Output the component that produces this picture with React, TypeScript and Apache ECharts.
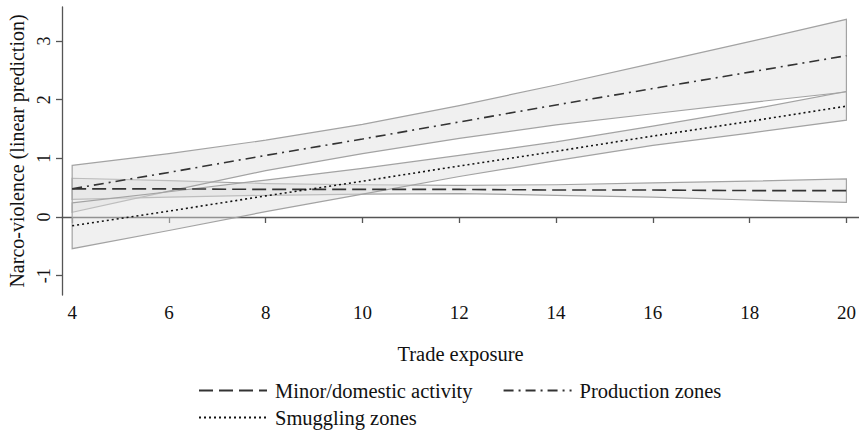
import React, { useEffect, useRef } from "react";
import * as echarts from "echarts";

const xValues = [4, 6, 8, 10, 12, 14, 16, 18, 20];
const xTicks = [4, 6, 8, 10, 12, 14, 16, 18, 20];
const yTicks = [-1, 0, 1, 2, 3];

const minorMid = [0.48, 0.48, 0.47, 0.47, 0.47, 0.46, 0.46, 0.45, 0.45];
const minorLo = [0.3, 0.34, 0.37, 0.39, 0.4, 0.37, 0.34, 0.29, 0.25];
const minorHi = [0.66, 0.62, 0.57, 0.55, 0.54, 0.55, 0.58, 0.61, 0.65];

const prodMid = [0.48, 0.76, 1.05, 1.33, 1.62, 1.91, 2.19, 2.47, 2.75];
const prodLo = [0.08, 0.44, 0.79, 1.08, 1.34, 1.57, 1.76, 1.95, 2.13];
const prodHi = [0.88, 1.08, 1.31, 1.58, 1.9, 2.25, 2.62, 2.99, 3.37];

const smugMid = [-0.15, 0.1, 0.36, 0.61, 0.87, 1.12, 1.38, 1.63, 1.89];
const smugLo = [-0.54, -0.23, 0.09, 0.39, 0.69, 0.96, 1.22, 1.43, 1.65];
const smugHi = [0.24, 0.43, 0.63, 0.83, 1.05, 1.28, 1.55, 1.83, 2.14];

const FONT = "Liberation Serif";

function band(name: string, lo: number[], hi: number[]) {
  return {
    type: "custom",
    name,
    silent: true,
    data: xValues.map((x, i) => [x, lo[i], hi[i]]),
    encode: { x: 0, y: [1, 2] },
    renderItem: (params: any, api: any) => {
      if (params.dataIndex !== 0) return null;
      const top = xValues.map((x, i) => api.coord([x, hi[i]]));
      const bot = xValues.map((x, i) => api.coord([x, lo[i]])).reverse();
      return {
        type: "polygon",
        shape: { points: [...top, ...bot], smooth: 0 },
        style: {
          fill: "rgba(222,222,222,0.45)",
          stroke: "#a3a3a3",
          lineWidth: 1.2,
        },
      };
    },
    z: 1,
  };
}

function line(name: string, mid: number[], type: any, color: string) {
  return {
    type: "line",
    name,
    data: xValues.map((x, i) => [x, mid[i]]),
    symbol: "none",
    showSymbol: false,
    lineStyle: { color, width: 1.6, type },
    itemStyle: { color },
    z: 5,
  };
}

export default function App() {
  const ref = useRef<HTMLDivElement>(null);
  useEffect(() => {
    if (!ref.current) return;
    const chart = echarts.init(ref.current, undefined, { renderer: "svg" });
    const axisColor = "#555555";
    const legendCommon = {
      left: 198,
      padding: 0,
      orient: "horizontal",
      itemWidth: 68,
      itemHeight: 14,
      itemGap: 30,
      itemStyle: { opacity: 0 },
      textStyle: { fontFamily: FONT, fontSize: 20.5, color: "#111", padding: [0, 0, 0, 3] },
      selectedMode: false,
    };
    chart.setOption({
      animation: false,
      backgroundColor: "#ffffff",
      textStyle: { fontFamily: FONT },
      grid: { left: 62, top: 7, right: 0, bottom: 136, outerBoundsMode: "none", containLabel: false },
      xAxis: {
        type: "value",
        min: 3.79,
        max: 20.26,
        name: "Trade exposure",
        nameLocation: "middle",
        nameGap: 48,
        nameTextStyle: { fontFamily: FONT, fontSize: 20.5, color: "#111" },
        axisLine: { show: true, lineStyle: { color: axisColor, width: 1.3 } },
        axisTick: {
          show: true,
          length: 6,
          customValues: xTicks,
          lineStyle: { color: axisColor, width: 1.3 },
        },
        axisLabel: {
          customValues: xTicks,
          fontFamily: FONT,
          fontSize: 19,
          color: "#111",
          margin: 8,
        },
        splitLine: { show: false },
      },
      yAxis: {
        type: "value",
        min: -1.33,
        max: 3.58,
        name: "Narco-violence (linear prediction)",
        nameLocation: "middle",
        nameGap: 34,
        nameTextStyle: { fontFamily: FONT, fontSize: 20, color: "#111" },
        axisLine: { show: true, lineStyle: { color: axisColor, width: 1.3 } },
        axisTick: {
          show: true,
          length: 6,
          customValues: yTicks,
          lineStyle: { color: axisColor, width: 1.3 },
        },
        axisLabel: {
          customValues: yTicks,
          rotate: 90,
          fontFamily: FONT,
          fontSize: 18,
          color: "#111",
          margin: 9,
        },
        splitLine: { show: false },
      },
      legend: [
        { ...legendCommon, data: ["Minor/domestic activity", "Production zones"], top: 380 },
        { ...legendCommon, data: ["Smuggling zones"], top: 407 },
      ],
      series: [
        band("minorBand", minorLo, minorHi),
        band("prodBand", prodLo, prodHi),
        band("smugBand", smugLo, smugHi),
        line("Minor/domestic activity", minorMid, [14, 6], "#333333"),
        line("Production zones", prodMid, [10, 5, 2, 5], "#333333"),
        line("Smuggling zones", smugMid, [2, 3], "#111111"),
      ],
    });
    return () => chart.dispose();
  }, []);
  return (
    <div
      ref={ref}
      style={{ position: "fixed", left: 0, top: 0, width: 859, height: 431 }}
    />
  );
}
